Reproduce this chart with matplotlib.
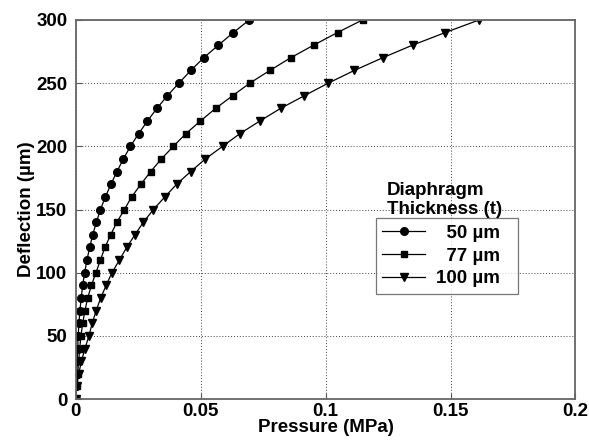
import matplotlib.pyplot as plt
import numpy as np

plt.rcParams['font.family'] = ['Liberation Sans', 'DejaVu Sans']
plt.rcParams['font.weight'] = 'bold'

# deflection (um), one marker every 10 um
deflection = np.arange(0, 301, 10)

# pressure (MPa)
p_50 = [0.0, 0.0002, 0.0004, 0.0006, 0.0008, 0.0010, 0.0013, 0.0017, 0.0022, 0.0028,
        0.0036, 0.0045, 0.0056, 0.0068, 0.0083, 0.0099, 0.0119, 0.0141, 0.0165, 0.0191,
        0.0219, 0.0252, 0.0287, 0.0325, 0.0367, 0.0413, 0.0461, 0.0512, 0.0571, 0.0631,
        0.0695]
p_77 = [0.0, 0.0004, 0.0008, 0.0012, 0.0016, 0.0021, 0.0028, 0.0037, 0.0048, 0.0063,
        0.0081, 0.0099, 0.0117, 0.0140, 0.0165, 0.0195, 0.0224, 0.0261, 0.0300, 0.0343,
        0.0391, 0.0441, 0.0499, 0.0560, 0.0628, 0.0697, 0.0777, 0.0860, 0.0952, 0.1048,
        0.1148]
p_100 = [0.0, 0.0005, 0.0012, 0.0023, 0.0037, 0.0053, 0.0066, 0.0082, 0.0100, 0.0122,
         0.0145, 0.0175, 0.0204, 0.0237, 0.0271, 0.0311, 0.0357, 0.0404, 0.0460, 0.0519,
         0.0588, 0.0657, 0.0737, 0.0820, 0.0915, 0.1011, 0.1115, 0.1228, 0.1348, 0.1479,
         0.1615]

labels = ['  50 \u00b5m  ', '  77 \u00b5m  ', '100 \u00b5m  ']

fig = plt.figure(figsize=(5.89, 4.42), dpi=100)
ax = fig.add_axes([0.1285, 0.097, 0.8485, 0.858])

ax.plot(p_50, deflection, '-o', color='black', lw=0.9, ms=5.5, label=labels[0])
ax.plot(p_77, deflection, '-s', color='black', lw=0.9, ms=5, label=labels[1])
ax.plot(p_100, deflection, '-v', color='black', lw=0.9, ms=5.5, label=labels[2])

ax.set_xlim(0, 0.2)
ax.set_ylim(0, 300)
ax.set_xticks([0, 0.05, 0.1, 0.15, 0.2])
ax.set_xticklabels(['0', '0.05', '0.1', '0.15', '0.2'])
ax.set_yticks([0, 50, 100, 150, 200, 250, 300])
ax.grid(True, linestyle=(0, (1, 2)), color='#444444', lw=0.7)
ax.tick_params(direction='in', labelsize=13.5, length=4, color='#555555')
ax.tick_params(axis='x', pad=3)
ax.tick_params(axis='y', pad=6)
for s in ax.spines.values():
    s.set_color('#666666')
    s.set_linewidth(1.3)

ax.set_xlabel('Pressure (MPa)', fontsize=13.5, fontweight='bold', labelpad=-1)
ax.set_ylabel('Deflection (\u00b5m)', fontsize=13.5, fontweight='bold', labelpad=1)

leg = ax.legend(loc='upper left', bbox_to_anchor=(0.6, 0.477), fontsize=13.5,
                frameon=True, fancybox=False, edgecolor='#555555',
                handlelength=2.3, borderpad=0.35, labelspacing=0.3, handletextpad=0.6,
                borderaxespad=0)
leg.get_frame().set_linewidth(0.9)
for t in leg.get_texts():
    t.set_fontweight('bold')

ax.text(0.622, 0.478, 'Diaphragm\nThickness (t)', transform=ax.transAxes,
        fontsize=13.5, fontweight='bold', va='bottom', ha='left', linespacing=1.15)

fig.savefig('out.png', dpi=100)
